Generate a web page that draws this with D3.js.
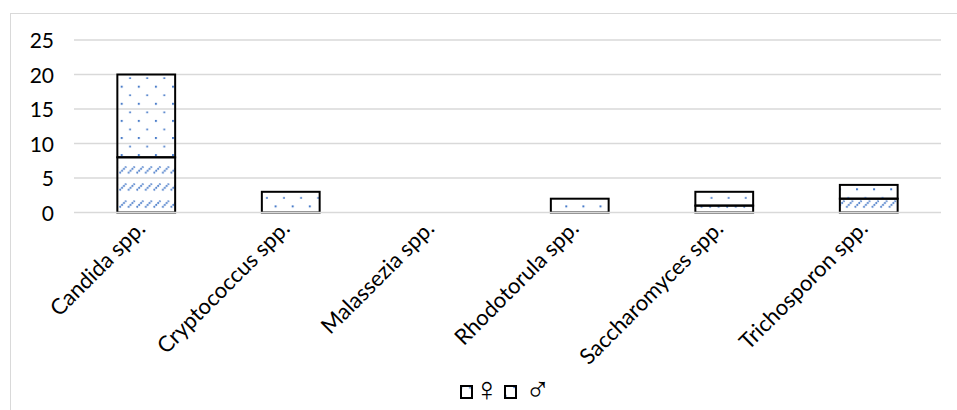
<!DOCTYPE html>
<html>
<head>
<meta charset="utf-8">
<script src="https://cdn.jsdelivr.net/npm/d3@7/dist/d3.min.js"></script>
<style>
  html, body { margin: 0; padding: 0; background: #fff; }
  svg { display: block; }
  text { font-family: Lato, "Open Sans", sans-serif; fill: #000; }
</style>
</head>
<body>
<svg id="chart" width="957" height="410"></svg>
<script>
// Yeast genera isolated, stacked by sex
const categories = ["Candida spp.", "Cryptococcus spp.", "Malassezia spp.", "Rhodotorula spp.", "Saccharomyces spp.", "Trichosporon spp."];
const female = [8, 0, 0, 0, 1, 2];
const male = [12, 3, 0, 2, 2, 2];
const yTicks = [0, 5, 10, 15, 20, 25];
const seriesNames = ["\u2640", "\u2642"];

const plot = { left: 74, right: 941, top: 40, bottom: 212.5 };
const blue = "#4a7cc9";

const svg = d3.select("#chart");
const defs = svg.append("defs");

// sparse dot fill (upper segment)
const tile = 17.1;
const dots = defs.append("pattern")
  .attr("id", "pat-dots")
  .attr("patternUnits", "userSpaceOnUse")
  .attr("x", 120.7).attr("y", 85.7)
  .attr("width", tile).attr("height", tile);
dots.append("rect").attr("x", 0).attr("y", 0).attr("width", 2).attr("height", 2).attr("fill", blue);
dots.append("rect").attr("x", 8.4).attr("y", 8.8).attr("width", 2).attr("height", 1.6).attr("fill", blue);

// dashed upward diagonal fill (lower segment)
const hatch = defs.append("pattern")
  .attr("id", "pat-hatch")
  .attr("patternUnits", "userSpaceOnUse")
  .attr("x", 119).attr("y", 166)
  .attr("width", tile).attr("height", tile);
[0, tile / 2].forEach(dx => {
  hatch.append("line")
    .attr("x1", dx + 0.5).attr("y1", 7.2)
    .attr("x2", dx + 7.2).attr("y2", 0.5)
    .attr("stroke", blue).attr("stroke-width", 1.8)
    .attr("stroke-dasharray", "1.8 0.9");
});

const fills = ["url(#pat-hatch)", "url(#pat-dots)"];

// chart area frame
svg.append("rect")
  .attr("x", 10.5).attr("y", 13.5)
  .attr("width", 1000).attr("height", 500)
  .attr("fill", "#fff").attr("stroke", "#d9d9d9").attr("stroke-width", 1);

const x = d3.scaleBand()
  .domain(categories)
  .range([plot.left, plot.right])
  .paddingInner(0.6)
  .paddingOuter(0.3);

const y = d3.scaleLinear()
  .domain([0, 25])
  .range([plot.bottom, plot.top]);

// horizontal gridlines
svg.append("g")
  .selectAll("line")
  .data(yTicks.filter(t => t > 0))
  .join("line")
  .attr("x1", plot.left).attr("x2", plot.right)
  .attr("y1", d => y(d)).attr("y2", d => y(d))
  .attr("stroke", "#d9d9d9").attr("stroke-width", 1.5);

// y axis labels
const yAxis = d3.axisLeft(y).tickValues(yTicks).tickSize(0).tickPadding(0);
const gy = svg.append("g")
  .attr("transform", `translate(${plot.left - 20},0)`)
  .call(yAxis);
gy.select(".domain").remove();
gy.selectAll("text")
  .attr("font-family", "Lato, 'Open Sans', sans-serif")
  .attr("font-size", 21)
  .attr("fill", "#000")
  .attr("dy", "0.36em");

// stacked bars
const rows = categories.map((c, i) => ({ cat: c, f: female[i], m: male[i] }));
const stack = d3.stack().keys(["f", "m"])(rows);

svg.append("g")
  .selectAll("g")
  .data(stack)
  .join("g")
  .attr("fill", (d, i) => fills[i])
  .selectAll("rect")
  .data(d => d.filter(s => s[1] - s[0] > 0))
  .join("rect")
  .attr("x", d => x(d.data.cat))
  .attr("width", x.bandwidth())
  .attr("y", d => y(d[1]))
  .attr("height", d => y(d[0]) - y(d[1]))
  .attr("stroke", "#000")
  .attr("stroke-width", 2);

// category axis
const xAxis = d3.axisBottom(x).tickSize(0).tickPadding(0);
const gx = svg.append("g")
  .attr("transform", `translate(0,${plot.bottom})`)
  .call(xAxis);
gx.select(".domain")
  .attr("stroke", "#d9d9d9").attr("stroke-width", 1.5)
  .attr("d", `M${plot.left},0H${plot.right}`);
gx.selectAll("text")
  .attr("font-family", "Lato, 'Open Sans', sans-serif")
  .attr("font-size", 22)
  .attr("fill", "#000")
  .attr("text-anchor", "end")
  .attr("y", null)
  .attr("transform", "translate(-5,12) rotate(-45)")
  .attr("dy", "0.35em");

// legend
const legend = svg.append("g").attr("transform", "translate(461,386)");
const items = [
  { name: seriesNames[0], fill: fills[0], x: 0, tx: 13 },
  { name: seriesNames[1], fill: fills[1], x: 44, tx: 64 }
];
items.forEach(it => {
  legend.append("rect")
    .attr("x", it.x).attr("y", 0)
    .attr("width", 11).attr("height", 12)
    .attr("fill", it.fill)
    .attr("stroke", "#000").attr("stroke-width", 2);
  legend.append("text")
    .attr("x", it.tx).attr("y", 15)
    .attr("font-family", "'DejaVu Sans', sans-serif")
    .attr("font-size", 34)
    .text(it.name);
});
</script>
</body>
</html>
